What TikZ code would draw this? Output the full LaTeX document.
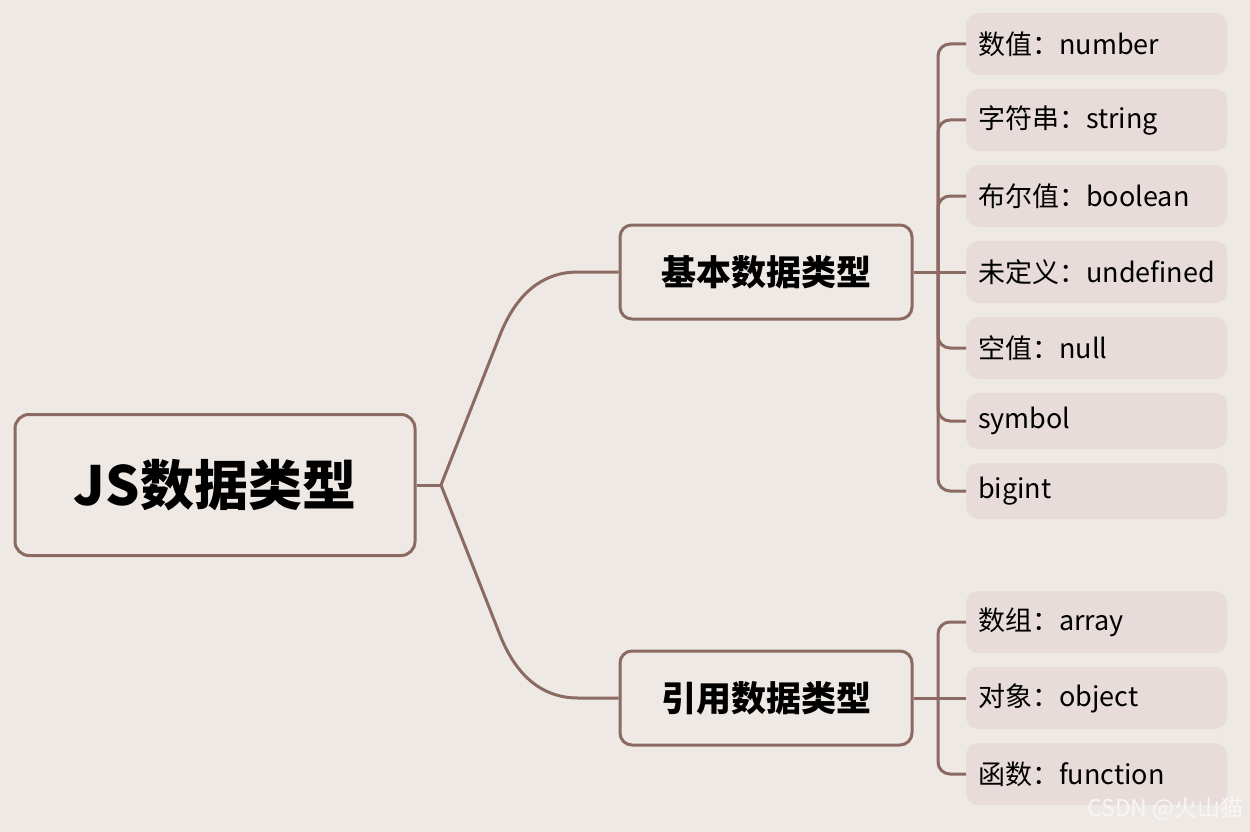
\documentclass[tikz,border=0pt]{standalone}
\usepackage{fontspec}
\setmainfont{Noto Sans CJK SC}
\definecolor{bg}{HTML}{EFE9E6}
\definecolor{brn}{HTML}{8B6A61}
\definecolor{leaffill}{HTML}{E7DCD9}
\definecolor{wm}{HTML}{F8F6F5}
\begin{document}
\begin{tikzpicture}[x=1pt,y=-1pt,
  rootbox/.style={draw=brn, line width=3pt, rounded corners=14pt, fill=bg, minimum width=400pt, minimum height=141pt, font=\fontsize{54}{60}\selectfont\bfseries, inner sep=0pt},
  branchbox/.style={draw=brn, line width=3pt, rounded corners=12pt, fill=bg, minimum width=292pt, minimum height=94pt, font=\fontsize{35}{40}\selectfont\bfseries, inner sep=0pt},
  leafbox/.style={fill=leaffill, rounded corners=12pt, anchor=west, minimum width=261pt, text width=237pt, align=left, inner xsep=12pt, inner ysep=0pt, font=\fontsize{27}{32}\selectfont},
  conn/.style={draw=brn, line width=3pt},
  spine/.style={draw=brn, line width=3pt, rounded corners=12pt}
]
\useasboundingbox (0,0) rectangle (1250,832);
\fill[bg] (0,0) rectangle (1250,832);

\node[rootbox] (root) at (215,485) {JS数据类型};
\node[branchbox] (basic) at (766,272) {基本数据类型};
\node[branchbox] (ref) at (766,698) {引用数据类型};

\coordinate (fork) at (441,485);
\coordinate (sp1) at (938,272);
\coordinate (sp2) at (938,698);

\node[leafbox, minimum height=62pt] (l1) at (966,44) {数值：number};
\node[leafbox, minimum height=62pt] (l2) at (966,120) {字符串：string};
\node[leafbox, minimum height=62pt] (l3) at (966,196) {布尔值：boolean};
\node[leafbox, minimum height=62pt] (l4) at (966,272) {未定义：undefined};
\node[leafbox, minimum height=62pt] (l5) at (966,348) {空值：null};
\node[leafbox, minimum height=56pt] (l6) at (966,421) {symbol};
\node[leafbox, minimum height=56pt] (l7) at (966,491) {bigint};

\node[leafbox, minimum height=62pt] (r1) at (966,622) {数组：array};
\node[leafbox, minimum height=62pt] (r2) at (966,698) {对象：object};
\node[leafbox, minimum height=62pt] (r3) at (966,774) {函数：function};

% root connectors
\draw[conn] (root.east) -- (fork);
\draw[conn] (fork) -- (500,335) .. controls (515,297) and (540,272) .. (578,272) -- (basic.west);
\draw[conn] (fork) -- (500,635) .. controls (515,673) and (540,698) .. (578,698) -- (ref.west);

% basic branch
\draw[conn] (basic.east) -- (l4.west);
\foreach \n in {l1,l2,l3,l5,l6,l7} {
  \draw[spine] (sp1) |- (\n.west);
}
% reference branch
\draw[conn] (ref.east) -- (r2.west);
\foreach \n in {r1,r3} {
  \draw[spine] (sp2) |- (\n.west);
}

\node[anchor=east, text=wm, font=\fontsize{23}{26}\selectfont] (wmark) at (1247,809) {CSDN @火山猫};
\end{tikzpicture}
\end{document}
